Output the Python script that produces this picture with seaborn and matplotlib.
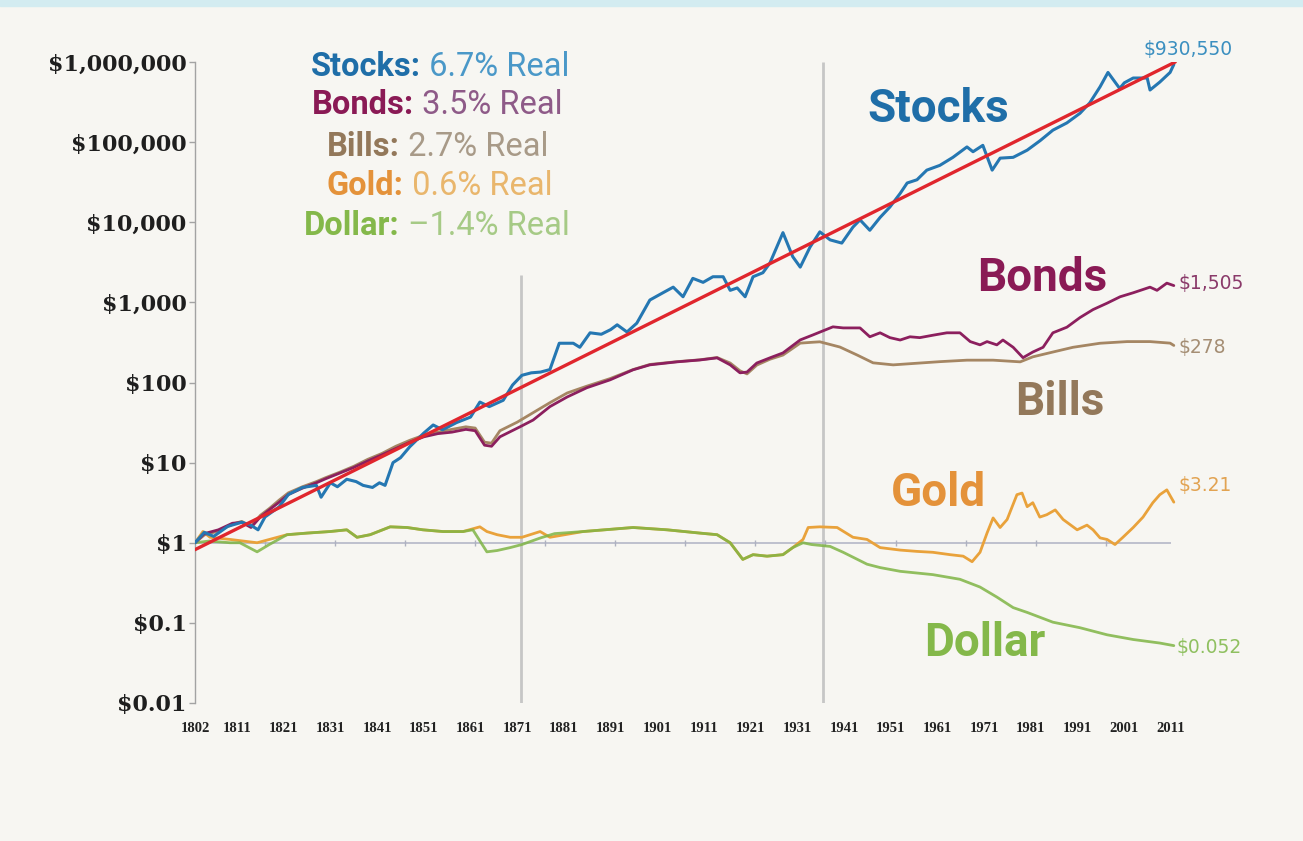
import matplotlib
matplotlib.use("Agg")
import matplotlib.pyplot as plt
import matplotlib.ticker as mticker
from matplotlib.patches import Rectangle
import seaborn as sns
import pandas as pd

# ---------------- data ----------------
stocks_years = [1802, 1804, 1806, 1809, 1812, 1814, 1815.5, 1817, 1820, 1822, 1825, 1828, 1829, 1831,
                1832.5, 1834.5, 1836.5, 1838, 1840, 1841.5, 1842.7, 1844.4, 1846, 1848, 1851, 1853, 1855,
                1858, 1861, 1863, 1865, 1868, 1870, 1872, 1874, 1876, 1878, 1880, 1883, 1884.4, 1886.6,
                1889, 1891, 1892.4, 1894.5, 1896.6, 1899.4, 1902.2, 1904.4, 1906.5, 1908.6, 1910.8,
                1912.9, 1915.1, 1916.6, 1918.1, 1919.8, 1921.5, 1923.6, 1925.1, 1927.9, 1930, 1931.6,
                1933.7, 1935.8, 1938, 1940.5, 1942.9, 1944.4, 1946.5, 1948.7, 1950.8, 1953, 1954.5,
                1956.6, 1958.7, 1961.5, 1964.3, 1967.3, 1968.6, 1970.7, 1972.7, 1974.4, 1977.2, 1980.2,
                1983, 1985.7, 1988.7, 1991.5, 1993.6, 1995.8, 1997.5, 2000, 2001, 2002.9, 2005.9, 2006.5,
                2008.6, 2010.8, 2011.6]
stocks_values = [1.0, 1.35, 1.2, 1.6, 1.8, 1.65, 1.45, 2.1, 2.8, 4.0, 4.9, 5.2, 3.7, 5.6, 5.0, 6.2, 5.8,
                 5.2, 4.9, 5.6, 5.2, 10.0, 11.5, 15.8, 23.4, 29.5, 25.7, 31.6, 37, 57, 50, 60, 93, 123,
                 132, 135, 145, 309, 309, 275, 417, 400, 457, 525, 427, 550, 1070, 1318, 1549, 1175,
                 1995, 1778, 2089, 2089, 1413, 1514, 1175, 2089, 2344, 3090, 7413, 3715, 2754, 4898,
                 7586, 6026, 5495, 8710, 10715, 7943, 11480, 15490, 22900, 30900, 33900, 44700, 51300,
                 64600, 87100, 75900, 91200, 44700, 63100, 64600, 79400, 104700, 141000, 173800,
                 229000, 309000, 490000, 741000, 468000, 550000, 631000, 631000, 447000, 562000,
                 741000, 930550]

bonds_years = [1802, 1804, 1807, 1810, 1812, 1814, 1816, 1818, 1820, 1822, 1825, 1828, 1830, 1833, 1836,
               1839, 1842, 1845, 1848, 1851, 1854, 1857, 1860, 1862, 1864, 1865.5, 1867.3, 1871.6,
               1874.4, 1878, 1881.7, 1885.9, 1890.9, 1895.8, 1899.4, 1905.2, 1910.1, 1913.8, 1916.6,
               1918.7, 1920.2, 1922.3, 1925.1, 1927.9, 1931.6, 1934.3, 1936, 1938.6, 1940.8, 1944.4,
               1946.5, 1948.7, 1950.8, 1953, 1955.1, 1957.2, 1960, 1963, 1965.8, 1968, 1970.1, 1971.6,
               1973.7, 1975, 1977.2, 1979.3, 1981.4, 1983.6, 1985.7, 1988.7, 1991.5, 1994.3, 1997.3,
               2000.1, 2002.9, 2006.5, 2008, 2010.1, 2011.6]
bonds_values = [1.0, 1.3, 1.45, 1.75, 1.8, 1.55, 2.1, 2.6, 3.2, 4.0, 4.8, 5.6, 6.3, 7.4, 8.7, 10.5,
                12.5, 15, 18, 21, 23, 24, 26, 25, 16.5, 16, 21, 28, 34, 50, 66, 86, 108, 144, 166, 181,
                191, 203, 166, 132, 135, 175, 203, 234, 340, 392, 430, 495, 480, 480, 372, 417, 363,
                339, 372, 363, 389, 417, 417, 324, 295, 324, 295, 339, 275, 204, 240, 275, 417, 490,
                646, 813, 977, 1175, 1318, 1549, 1413, 1738, 1620]

bills_years = [1802, 1804, 1807, 1810, 1812, 1814, 1816, 1818, 1820, 1822, 1825, 1828, 1830, 1833, 1836,
               1839, 1842, 1845, 1848, 1851, 1854, 1857, 1860, 1862, 1864, 1865.5, 1867.3, 1871,
               1874.4, 1878, 1881.7, 1885.9, 1890.9, 1895.8, 1899.4, 1905.2, 1910.1, 1913.8, 1916.6,
               1918.7, 1920.2, 1922.3, 1925.1, 1927.9, 1931.6, 1934.3, 1935.8, 1940.1, 1943.8, 1947.2,
               1951.5, 1956.6, 1961.5, 1967.3, 1972.9, 1978.7, 1981.4, 1985.7, 1990, 1995.8, 2001.6,
               2006.5, 2010.8, 2011.6]
bills_values = [1.0, 1.25, 1.4, 1.7, 1.85, 1.6, 2.2, 2.7, 3.4, 4.2, 5.0, 5.8, 6.5, 7.6, 9.0, 11, 13,
                16, 19, 22, 24, 26, 28, 27, 18, 17.5, 25, 32, 42, 56, 74, 90, 112, 145, 168, 182, 192,
                205, 175, 140, 128, 165, 195, 220, 310, 318, 322, 277, 220, 176, 166, 174, 182, 190,
                190, 181, 209, 240, 275, 309, 324, 324, 310, 290]

gold_years = [1802, 1803.7, 1805.2, 1809.5, 1815.3, 1821.7, 1826, 1830.9, 1834.5, 1836.7, 1839.5,
              1843.8, 1847.4, 1850.8, 1855.1, 1859.4, 1863, 1864.5, 1866.7, 1869.5, 1872, 1875.9, 1878,
              1885.1, 1895.8, 1903.1, 1910.1, 1913.8, 1916.6, 1919.3, 1921.5, 1924.5, 1927.9, 1930,
              1932.2, 1933.3, 1935.8, 1939.5, 1942.9, 1945.9, 1948.7, 1953, 1956.6, 1960, 1963.7,
              1966.5, 1968.4, 1970.1, 1971.6, 1972.9, 1974.4, 1975.9, 1978, 1979.1, 1980.2, 1981.4,
              1982.9, 1984.4, 1986.2, 1987.9, 1990.9, 1993, 1994.3, 1995.8, 1997.3, 1999, 2000.7,
              2002.9, 2005, 2007.1, 2008.6, 2010.1, 2011.6]
gold_values = [1.0, 1.38, 1.17, 1.1, 1.0, 1.26, 1.32, 1.38, 1.45, 1.17, 1.26, 1.58, 1.55, 1.45, 1.38,
               1.38, 1.58, 1.38, 1.26, 1.17, 1.17, 1.38, 1.17, 1.38, 1.55, 1.45, 1.32, 1.26, 1.0, 0.62,
               0.71, 0.68, 0.71, 0.87, 1.1, 1.55, 1.58, 1.55, 1.17, 1.1, 0.87, 0.81, 0.78, 0.76, 0.71,
               0.68, 0.58, 0.76, 1.32, 2.04, 1.55, 1.95, 3.98, 4.17, 2.82, 3.16, 2.09, 2.24, 2.57, 1.95,
               1.45, 1.66, 1.45, 1.15, 1.1, 0.95, 1.17, 1.55, 2.09, 3.16, 3.98, 4.57, 3.21]

dollar_years = [1802, 1805, 1809.5, 1811.6, 1815.3, 1817.9, 1821.7, 1826, 1830.9, 1834.5, 1836.7,
                1839.5, 1843.8, 1847.4, 1850.8, 1855.1, 1859.4, 1861.5, 1864.5, 1866.7, 1869.5, 1872,
                1876, 1879, 1885.1, 1895.8, 1903.1, 1910.1, 1913.8, 1916.6, 1919.3, 1921.5, 1924.5,
                1927.9, 1930, 1932.2, 1934, 1938, 1940.8, 1945.9, 1948.7, 1953, 1960, 1965.8, 1970.1,
                1973.7, 1977.2, 1980.2, 1985.7, 1991.5, 1997.3, 2002.9, 2008.6, 2011.6]
dollar_values = [1.0, 1.05, 1.0, 1.0, 0.77, 0.95, 1.26, 1.32, 1.38, 1.45, 1.17, 1.26, 1.58, 1.55, 1.45,
                 1.38, 1.38, 1.45, 0.77, 0.8, 0.87, 0.95, 1.15, 1.3, 1.38, 1.55, 1.45, 1.32, 1.26, 1.0,
                 0.62, 0.71, 0.68, 0.71, 0.87, 1.0, 0.95, 0.9, 0.76, 0.54, 0.49, 0.44, 0.40, 0.35, 0.28,
                 0.21, 0.155, 0.135, 0.102, 0.087, 0.071, 0.062, 0.056, 0.052]

trend_years = [1802, 2011.9]
trend_values = [0.82, 1.0e6]

series_names = ["Stocks", "Bonds", "Bills", "Gold", "Dollar"]
real_returns = ["6.7% Real", "3.5% Real", "2.7% Real", "0.6% Real", "\u20131.4% Real"]
end_labels = ["$930,550", "$1,505", "$278", "$3.21", "$0.052"]

y_ticks = [0.01, 0.1, 1, 10, 100, 1e3, 1e4, 1e5, 1e6]
y_tick_labels = ["$0.01", "$0.1", "$1", "$10", "$100", "$1,000", "$10,000", "$100,000", "$1,000,000"]
x_ticks = [1802, 1811, 1821, 1831, 1841, 1851, 1861, 1871, 1881, 1891, 1901, 1911, 1921, 1931,
           1941, 1951, 1961, 1971, 1981, 1991, 2001, 2011]
x_tick_labels = [str(t) for t in x_ticks]
baseline_tick_years = [1817, 1832, 1847, 1862, 1877, 1892, 1907, 1922, 1937, 1952, 1967, 1982, 1997]
ref_line_years = [1871.8, 1936.5]
ref_line_tops = [2200, 1e6]

# ---------------- styling ----------------
sns.set_theme(style="white")
plt.rcParams["font.family"] = ["Roboto", "DejaVu Sans"]

W, H = 1303, 841
BG = "#f7f6f2"
line_colors = {"Stocks": "#2577b2", "Bonds": "#8c1f5e", "Bills": "#a58663",
               "Gold": "#e9a23b", "Dollar": "#7fb545"}
name_colors = {"Stocks": "#1f6ea8", "Bonds": "#8a1a55", "Bills": "#93785a",
               "Gold": "#e4923a", "Dollar": "#84b84a"}
ret_colors = {"Stocks": "#4a98c8", "Bonds": "#8e5a88", "Bills": "#a89a88",
              "Gold": "#e9b66c", "Dollar": "#a6ca86"}
end_colors = {"Stocks": "#3b8fc0", "Bonds": "#8a3a6a", "Bills": "#a58e74",
              "Gold": "#e2a352", "Dollar": "#8fc060"}

fig = plt.figure(figsize=(W / 100, H / 100), dpi=100, facecolor=BG)
fig.patches.append(Rectangle((0, 1 - 6 / H), 1, 6 / H, transform=fig.transFigure,
                             color="#d3ecf1", zorder=0))
ax = fig.add_axes([195 / W, 1 - 703 / H, 1095 / W, 641 / H])
ax.set_facecolor("none")
ax.set_yscale("log")

# reference lines
ax.vlines(ref_line_years, 0.01, ref_line_tops, colors="#c6c6c6", linewidth=2, zorder=1)
ax.hlines(1, x_ticks[0], x_ticks[-1], colors="#b9bccb", linewidth=1.3, zorder=1)
ax.plot(baseline_tick_years, [1] * len(baseline_tick_years), ls="none", marker="|",
        ms=4, mew=1, color="#aeb1c0", zorder=1)


def draw(years, values, color, lw, alpha=1.0, z=2):
    df = pd.DataFrame({"year": years, "value": values})
    sns.lineplot(data=df, x="year", y="value", ax=ax, color=color, linewidth=lw,
                 alpha=alpha, estimator=None, sort=False, zorder=z)


draw(gold_years, gold_values, line_colors["Gold"], 2.0, 1.0, 2)
draw(dollar_years, dollar_values, line_colors["Dollar"], 2.0, 0.85, 3)
draw(bills_years, bills_values, line_colors["Bills"], 2.0, 1.0, 4)
draw(bonds_years, bonds_values, line_colors["Bonds"], 2.0, 1.0, 5)
draw(stocks_years, stocks_values, line_colors["Stocks"], 2.2, 1.0, 6)
draw(trend_years, trend_values, "#e0262d", 2.4, 1.0, 7)

ax.set_ylim(0.01, 1e6)
ax.set_xlim(1802, 1802 + 1095 / 4.67)

for s in ["top", "right", "bottom"]:
    ax.spines[s].set_visible(False)
ax.spines["left"].set_color("#a3a3a3")
ax.spines["left"].set_linewidth(1)

ax.set_yticks(y_ticks)
ax.set_yticklabels(y_tick_labels)
ax.yaxis.set_minor_locator(mticker.NullLocator())
ax.tick_params(axis="y", which="major", left=True, direction="out", length=4, width=1,
               color="#a3a3a3", pad=2, labelsize=16, labelcolor="#1e1e1e")
for lab in ax.get_yticklabels():
    lab.set_fontfamily("DejaVu Serif")
    lab.set_fontweight("bold")

ax.set_xticks(x_ticks)
ax.set_xticklabels(x_tick_labels)
ax.xaxis.set_minor_locator(mticker.NullLocator())
ax.tick_params(axis="x", bottom=False, length=0, pad=14, labelsize=10.5, labelcolor="#222222")
for lab in ax.get_xticklabels():
    lab.set_fontfamily("Liberation Serif")
    lab.set_fontweight("bold")
ax.set_xlabel("")
ax.set_ylabel("")

# big series labels
label_pos = {"Stocks": (1961.1, 2.6e5), "Bonds": (1983.4, 2000), "Bills": (1987.2, 57),
             "Gold": (1961.1, 4.2), "Dollar": (1971.2, 0.056)}
for name in series_names:
    x, y = label_pos[name]
    ax.text(x, y, name, ha="center", va="center", fontsize=33, fontweight="bold",
            color=name_colors[name], zorder=8)

# end value labels
ends = {"Stocks": (stocks_years[-1], stocks_values[-1], (-22, 11)),
        "Bonds": (bonds_years[-1], bonds_values[-1], (3.5, 1.4)),
        "Bills": (bills_years[-1], bills_values[-1], (3.5, -1.4)),
        "Gold": (gold_years[-1], gold_values[-1], (3.5, 12)),
        "Dollar": (dollar_years[-1], dollar_values[-1], (2, -1.4))}
for name, lab in zip(series_names, end_labels):
    x, y, off = ends[name]
    ax.annotate(lab, xy=(x, y), xytext=off, textcoords="offset points", ha="left",
                va="center", fontsize=13.5, family="DejaVu Sans", color=end_colors[name],
                annotation_clip=False, zorder=9)

# legend block
legend_pos = [(311, 67), (312, 105), (327, 147), (327, 186), (304, 226)]
for name, ret, (px, py) in zip(series_names, real_returns, legend_pos):
    t1 = fig.text(px / W, 1 - py / H, name + ":", ha="left", va="center", fontsize=23.5,
                  fontweight="bold", color=name_colors[name])
    ax.annotate(" " + ret, xy=(1, 0), xycoords=t1, ha="left", va="bottom", fontsize=23.5,
                color=ret_colors[name], annotation_clip=False)

fig.savefig("out.png", dpi=100, facecolor=BG)
